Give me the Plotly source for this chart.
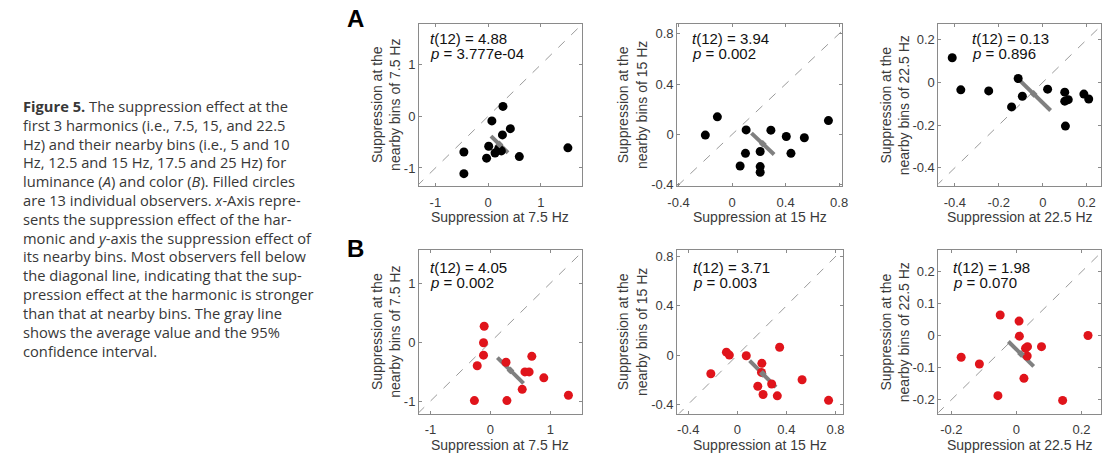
import numpy as np
import plotly.graph_objects as go

# ---------------- data ----------------
# Panel A (luminance) – black points
a1_x = [-0.46, -0.46, -0.03, 0.01, 0.07, 0.13, 0.28, 0.27, 0.42, 0.25, 0.59, 1.51, 0.20]
a1_y = [-1.11, -0.69, -0.81, -0.58, -0.09, -0.71, 0.19, -0.36, -0.24, -0.67, -0.78, -0.61, -0.62]
a2_x = [-0.20, -0.11, 0.105, 0.10, 0.06, 0.21, 0.21, 0.21, 0.29, 0.405, 0.44, 0.54, 0.72]
a2_y = [-0.005, 0.14, 0.036, -0.15, -0.25, -0.135, -0.255, -0.30, 0.034, -0.016, -0.15, -0.026, 0.11]
a3_x = [-0.412, -0.373, -0.246, -0.142, -0.112, -0.093, 0.022, 0.10, 0.10, 0.116, 0.187, 0.209, 0.103]
a3_y = [0.115, -0.035, -0.040, -0.115, 0.018, -0.065, -0.032, -0.046, -0.088, -0.081, -0.055, -0.078, -0.205]
# Panel B (color) – red points
b1_x = [-0.104, -0.115, -0.115, -0.22, -0.267, 0.26, 0.275, 0.69, 0.575, 0.645, 0.89, 0.53, 1.30]
b1_y = [0.27, -0.01, -0.22, -0.40, -0.99, -0.34, -0.99, -0.24, -0.505, -0.505, -0.605, -0.80, -0.90]
b2_x = [-0.216, -0.089, -0.065, 0.073, 0.20, 0.197, 0.167, 0.21, 0.28, 0.326, 0.345, 0.528, 0.744]
b2_y = [-0.152, 0.024, 0.0, -0.005, -0.067, -0.141, -0.253, -0.32, -0.235, -0.331, 0.064, -0.20, -0.368]
b3_x = [-0.170, -0.114, -0.050, -0.057, 0.008, 0.009, 0.023, 0.028, 0.034, 0.033, 0.077, 0.142, 0.220]
b3_y = [-0.067, -0.088, 0.065, -0.187, 0.046, -0.001, -0.133, -0.039, -0.034, -0.063, -0.034, -0.202, 0.001]

freq_labels = ["7.5", "15", "22.5", "7.5", "15", "22.5"]
t_values = ["4.88", "3.94", "0.13", "4.05", "3.71", "1.98"]
p_values = ["3.777e-04", "0.002", "0.896", "0.002", "0.003", "0.070"]

a1_ticks = [-1, 0, 1]
a1_ticktext = ["-1", "0", "1"]
a2_ticks = [-0.4, 0, 0.4, 0.8]
a2_ticktext = ["-0.4", "0", "0.4", "0.8"]
a3_xticks = [-0.4, -0.2, 0, 0.2]
a3_xticktext = ["-0.4", "-0.2", "0", "0.2"]
a3_yticks = [-0.4, -0.2, 0, 0.2]
a3_yticktext = ["-0.4", "-0.2", "0", "0.2"]
b1_ticks = [-1, 0, 1]
b1_ticktext = ["-1", "0", "1"]
b2_ticks = [-0.4, 0, 0.4, 0.8]
b2_ticktext = ["-0.4", "0", "0.4", "0.8"]
b3_xticks = [-0.2, 0, 0.2]
b3_xticktext = ["-0.2", "0", "0.2"]
b3_yticks = [-0.2, -0.1, 0, 0.1, 0.2]
b3_yticktext = ["-0.2", "-0.1", "0", "0.1", "0.2"]

caption_lines = [
    "<b>Figure 5.</b> The suppression effect at the",
    "first 3 harmonics (i.e., 7.5, 15, and 22.5",
    "Hz) and their nearby bins (i.e., 5 and 10",
    "Hz, 12.5 and 15 Hz, 17.5 and 25 Hz) for",
    "luminance (<i>A</i>) and color (<i>B</i>). Filled circles",
    "are 13 individual observers. <i>x</i>-Axis repre-",
    "sents the suppression effect of the har-",
    "monic and <i>y</i>-axis the suppression effect of",
    "its nearby bins. Most observers fell below",
    "the diagonal line, indicating that the sup-",
    "pression effect at the harmonic is stronger",
    "than that at nearby bins. The gray line",
    "shows the average value and the 95%",
    "confidence interval.",
]

# ---------------- layout constants ----------------
W, H = 1108, 454
T_CRIT = 2.178813  # t(0.975, df=12)

panels = [
    dict(x=a1_x, y=a1_y, c="#000000", box=(415, 580, 23, 188), xr=[-1.31, 1.77], yr=[-1.35, 1.79],
         xt=a1_ticks, xtt=a1_ticktext, yt=a1_ticks, ytt=a1_ticktext, ysh=-33, sx=9, sy=15),
    dict(x=a2_x, y=a2_y, c="#000000", box=(677, 844, 23, 188), xr=[-0.41, 0.82], yr=[-0.41, 0.88],
         xt=a2_ticks, xtt=a2_ticktext, yt=a2_ticks, ytt=a2_ticktext, ysh=-45, sx=13, sy=15),
    dict(x=a3_x, y=a3_y, c="#000000", box=(942, 1107, 23, 188), xr=[-0.475, 0.265], yr=[-0.486, 0.275],
         xt=a3_xticks, xtt=a3_xticktext, yt=a3_yticks, ytt=a3_yticktext, ysh=-44, sx=32, sy=15),
    dict(x=b1_x, y=b1_y, c="#e0141b", box=(415, 580, 253, 419), xr=[-1.19, 1.52], yr=[-1.21, 1.56],
         xt=b1_ticks, xtt=b1_ticktext, yt=b1_ticks, ytt=b1_ticktext, ysh=-33, sx=9, sy=17),
    dict(x=b2_x, y=b2_y, c="#e0141b", box=(677, 845, 253, 419), xr=[-0.49, 0.86], yr=[-0.475, 0.853],
         xt=b2_ticks, xtt=b2_ticktext, yt=b2_ticks, ytt=b2_ticktext, ysh=-45, sx=14, sy=17),
    dict(x=b3_x, y=b3_y, c="#e0141b", box=(942, 1107, 253, 419), xr=[-0.240, 0.26], yr=[-0.243, 0.268],
         xt=b3_xticks, xtt=b3_xticktext, yt=b3_yticks, ytt=b3_yticktext, ysh=-44, sx=13, sy=17),
]

AX_COL = "#8a8a8a"
TXT_COL = "#3a3a3a"
FONT = "Arial, Liberation Sans, Helvetica, sans-serif"

fig = go.Figure()
annotations = []
layout_axes = {}

for i, p in enumerate(panels):
    k = "" if i == 0 else str(i + 1)
    xa, ya = "x" + k, "y" + k
    x = np.array(p["x"], dtype=float)
    y = np.array(p["y"], dtype=float)

    # diagonal reference line y = x across the axis range
    lo = min(p["xr"][0], p["yr"][0])
    hi = max(p["xr"][1], p["yr"][1])
    fig.add_trace(go.Scatter(x=[lo, hi], y=[lo, hi], mode="lines", xaxis=xa, yaxis=ya,
                             line=dict(color="#9a9a9a", width=1, dash="dash"),
                             hoverinfo="skip", showlegend=False))

    # mean & 95% CI of the difference, drawn perpendicular to the diagonal
    d = x - y
    h = T_CRIT * d.std(ddof=1) / np.sqrt(len(d))
    mx, my = x.mean(), y.mean()
    fig.add_trace(go.Scatter(x=[mx - h / 2, mx + h / 2], y=[my + h / 2, my - h / 2], mode="lines",
                             xaxis=xa, yaxis=ya, line=dict(color="#808080", width=4),
                             hoverinfo="skip", showlegend=False))

    fig.add_trace(go.Scatter(x=x, y=y, mode="markers", xaxis=xa, yaxis=ya,
                             marker=dict(color=p["c"], size=9, line=dict(width=0)),
                             showlegend=False))

    fig.add_trace(go.Scatter(x=[mx], y=[my], mode="markers", xaxis=xa, yaxis=ya,
                             marker=dict(color="#808080", size=6, symbol="diamond"),
                             hoverinfo="skip", showlegend=False))

    x0, x1, y0, y1 = p["box"]
    common = dict(showline=True, linecolor=AX_COL, linewidth=1, mirror="ticks", ticks="inside",
                  ticklen=3, tickcolor=AX_COL, showgrid=False, zeroline=False,
                  tickfont=dict(family=FONT, size=13, color=TXT_COL), tickmode="array")
    layout_axes["xaxis" + k] = dict(common, domain=[x0 / W, x1 / W], anchor=ya, range=p["xr"],
                                    tickvals=p["xt"], ticktext=p["xtt"], ticklabelstandoff=4)
    layout_axes["yaxis" + k] = dict(common, domain=[1 - y1 / H, 1 - y0 / H], anchor=xa, range=p["yr"],
                                    tickvals=p["yt"], ticktext=p["ytt"])

    # x title
    annotations.append(dict(xref=xa + " domain", yref=ya + " domain", x=0.5, y=0, yshift=-31,
                            xanchor="center", yanchor="middle", showarrow=False,
                            text="Suppression at %s Hz" % freq_labels[i],
                            font=dict(family=FONT, size=14, color=TXT_COL)))
    # y title (two lines, rotated)
    annotations.append(dict(xref=xa + " domain", yref=ya + " domain", x=0, y=0.5, xshift=p["ysh"],
                            xanchor="center", yanchor="middle", showarrow=False, textangle=-90,
                            text="Suppression at the<br>nearby bins of %s Hz" % freq_labels[i],
                            font=dict(family=FONT, size=14, color=TXT_COL)))
    # statistics
    annotations.append(dict(xref=xa + " domain", yref=ya + " domain", x=0, y=1, xshift=p["sx"],
                            yshift=-p["sy"], xanchor="left", yanchor="middle", showarrow=False,
                            text="<i>t</i>(12) = %s" % t_values[i],
                            font=dict(family=FONT, size=15, color="#111111")))
    annotations.append(dict(xref=xa + " domain", yref=ya + " domain", x=0, y=1, xshift=p["sx"],
                            yshift=-p["sy"] - 15, xanchor="left", yanchor="middle", showarrow=False,
                            text="<i>p</i> = %s" % p_values[i],
                            font=dict(family=FONT, size=15, color="#111111")))

# panel letters
for letter, yc in (("A", 18), ("B", 251)):
    annotations.append(dict(xref="paper", yref="paper", x=351 / W, y=1 - yc / H, xanchor="center",
                            yanchor="middle", showarrow=False, text="<b>%s</b>" % letter,
                            font=dict(family=FONT, size=24, color="#000000")))

# caption
for j, line in enumerate(caption_lines):
    yc = 106.7 + j * 19.1
    annotations.append(dict(xref="paper", yref="paper", x=11 / W, y=1 - yc / H, xanchor="left",
                            yanchor="middle", showarrow=False, text=line,
                            font=dict(family="Open Sans, sans-serif", size=14.7, color="#383838")))

fig.update_layout(width=W, height=H, margin=dict(l=0, r=0, t=0, b=0),
                  paper_bgcolor="white", plot_bgcolor="white",
                  annotations=annotations, **layout_axes)

fig.write_html("out.html")
